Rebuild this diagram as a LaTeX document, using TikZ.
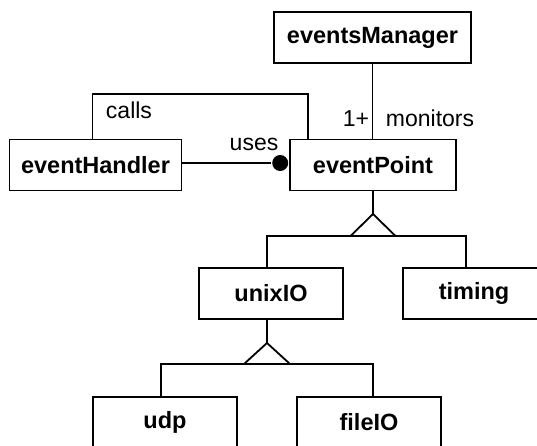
\documentclass[tikz,border=0pt]{standalone}
\usepackage{fontspec}
\setmainfont{Liberation Sans}
\begin{document}
\begin{tikzpicture}[x=1pt,y=-1pt, line width=1.8pt,
  cls/.style={draw, fill=white, inner sep=0pt, minimum height=51pt,
    font=\fontsize{23.5}{27}\selectfont\bfseries},
  lbl/.style={inner sep=0pt, anchor=base, font=\fontsize{23}{27}\selectfont},
  dotnode/.style={circle, fill=black, draw=none, inner sep=0pt, minimum size=16pt}]
\useasboundingbox (0,0) rectangle (537,446);
% classes
\node[cls, minimum width=197pt] (eM) at (372.5,37.5) {eventsManager};
\node[cls, minimum width=172pt] (eH) at (95.5,165) {eventHandler};
\node[cls, minimum width=166pt] (eP) at (373,165) {eventPoint};
\node[cls, minimum width=144pt] (uI) at (271,293.5) {unixIO};
\node[cls, minimum width=142pt] (tm) at (474,293.5) {timing};
\node[cls, minimum width=144pt] (udp) at (165,422.5) {udp};
\node[cls, minimum width=144pt] (fI) at (369,422.5) {fileIO};
% association eventsManager - eventPoint
\draw (eM.south) -- (eM.south |- eP.north);
\node[lbl] (one) at (356,127) {1+};
\node[lbl] (mon) at (430,127) {monitors};
% calls
\coordinate (cTop) at (200,94);
\draw ([xshift=-3pt]eH.north) |- (cTop) -| ([xshift=19pt]eP.north west);
\node[lbl] (calls) at (129,119) {calls};
% uses
\node[dotnode, anchor=east] (dot) at ([yshift=2pt]eP.west) {};
\draw ([yshift=2pt]eH.east) -- (dot);
\node[lbl] (uses) at (254,150.5) {uses};
% generalization 1
\coordinate (a1) at (373,214);
\coordinate (b1) at (373,236);
\coordinate (l1) at (267,236);
\coordinate (r1) at (466,236);
\draw (eP.south) -- (a1);
\draw (a1) -- ([xshift=-22.5pt]b1) -- ([xshift=22.5pt]b1) -- cycle;
\draw (l1 |- uI.north) -- (l1) -- (r1) -- (r1 |- tm.north);
% generalization 2
\coordinate (a2) at (267,343);
\coordinate (b2) at (267,364);
\coordinate (l2) at (161,364);
\coordinate (r2) at (373,364);
\draw (a2 |- uI.south) -- (a2);
\draw (a2) -- ([xshift=-23pt]b2) -- ([xshift=23pt]b2) -- cycle;
\draw (l2 |- udp.north) -- (l2) -- (r2) -- (r2 |- fI.north);
\end{tikzpicture}
\end{document}
